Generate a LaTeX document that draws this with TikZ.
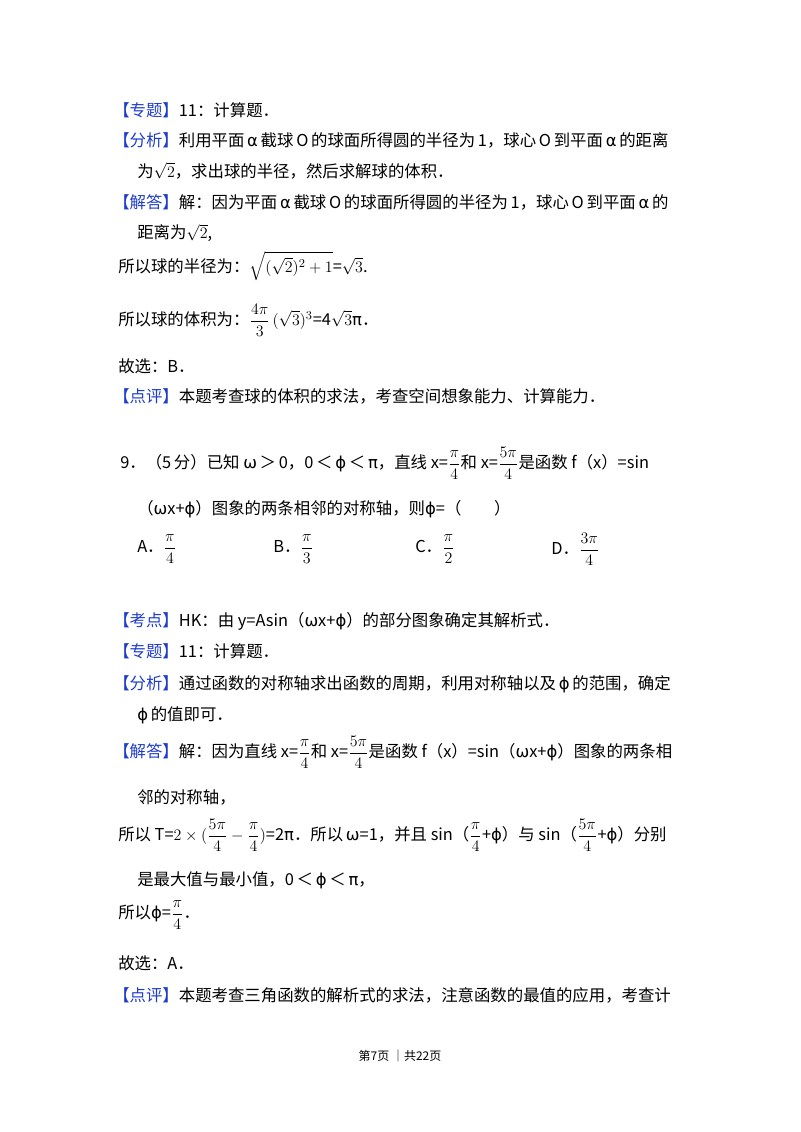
\documentclass[tikz,border=0pt]{standalone}
\usepackage{amsmath}
\usepackage{fontspec}
\setmainfont{Noto Sans CJK SC}
\newfontfamily\grk{DejaVu Sans}
\definecolor{lblue}{RGB}{30,60,200}
\newcommand{\lb}[1]{{\color{lblue}【#1】}}
\newcommand{\ph}{{\grk ϕ}}
\newcommand{\om}{{\grk ω}}
\newcommand{\al}{{\grk\,α\,}}
\newcommand{\pii}{{\grk π}}
\begin{document}
\begin{tikzpicture}[x=0.75pt,y=-0.75pt,
  t/.style={anchor=west,inner sep=0pt,font=\fontsize{12.3}{14}\selectfont}]
\useasboundingbox (0,0) rectangle (800,1132);
\node[t] (l1) at (113,110) {\lb{专题}11：计算题．};
\node[t] (l2) at (113,140) {\lb{分析}利用平面\al 截球\,O\,的球面所得圆的半径为\,1，球心\,O\,到平面\al 的距离};
\node[t] (l3) at (137,171) {为$\sqrt{2}$，求出球的半径，然后求解球的体积．};
\node[t] (l4) at (113,202) {\lb{解答}解：因为平面\al 截球\,O\,的球面所得圆的半径为\,1，球心\,O\,到平面\al 的};
\node[t] (l5) at (137,233) {距离为$\sqrt{2}$,};
\node[t] (l6) at (118,266) {所以球的半径为：$\sqrt{(\sqrt{2})^2+1}$=$\sqrt{3}$.};
\node[t] (l7) at (118,320) {所以球的体积为：$\dfrac{4\pi}{3}\,(\sqrt{3})^3$=4$\sqrt{3}$\pii．};
\node[t] (l8) at (118,366) {故选：B．};
\node[t] (l9) at (113,396) {\lb{点评}本题考查球的体积的求法，考查空间想象能力、计算能力．};
\node[t] (q1) at (120,463) {9．（5\,分）已知 \om\,＞\,0，0\,＜\,\ph\,＜\,\pii，直线 x=$\dfrac{\pi}{4}$和 x=$\dfrac{5\pi}{4}$是函数 f（x）=sin};
\node[t] (q2) at (137,509) {（\om x+\ph）图象的两条相邻的对称轴，则\ph=（\quad\quad）};
\node[t] (qa) at (137,549) {A．$\dfrac{\pi}{4}$};
\node[t] (qb) at (273,549) {B．$\dfrac{\pi}{3}$};
\node[t] (qc) at (415,549) {C．$\dfrac{\pi}{2}$};
\node[t] (qd) at (551,549) {D．$\dfrac{3\pi}{4}$};
\node[t] (m1) at (113,621) {\lb{考点}HK：由 y=Asin（\om x+\ph）的部分图象确定其解析式．};
\node[t] (m2) at (113,651) {\lb{专题}11：计算题．};
\node[t] (m3) at (113,684) {\lb{分析}通过函数的对称轴求出函数的周期，利用对称轴以及\,\ph\,的范围，确定};
\node[t] (m4) at (137,715) {\ph\,的值即可．};
\node[t] (m5) at (113,752) {\lb{解答}解：因为直线 x=$\dfrac{\pi}{4}$和 x=$\dfrac{5\pi}{4}$是函数 f（x）=sin（\om x+\ph）图象的两条相};
\node[t] (m6) at (137,797) {邻的对称轴，};
\node[t] (m7) at (118,835) {所以 T=$2\times(\dfrac{5\pi}{4}-\dfrac{\pi}{4})$=2\pii．所以\,\om=1，并且 sin（$\dfrac{\pi}{4}$+\ph）与 sin（$\dfrac{5\pi}{4}$+\ph）分别};
\node[t] (m8) at (137,880) {是最大值与最小值，0\,＜\,\ph\,＜\,\pii，};
\node[t] (m9) at (118,915) {所以\ph=$\dfrac{\pi}{4}$．};
\node[t] (m10) at (118,963) {故选：A．};
\node[t] (m11) at (113,995) {\lb{点评}本题考查三角函数的解析式的求法，注意函数的最值的应用，考查计};
\node[inner sep=0pt,font=\fontsize{9}{11}\selectfont] (ft) at (400,1056) {第7页 ｜共22页};
\end{tikzpicture}
\end{document}
